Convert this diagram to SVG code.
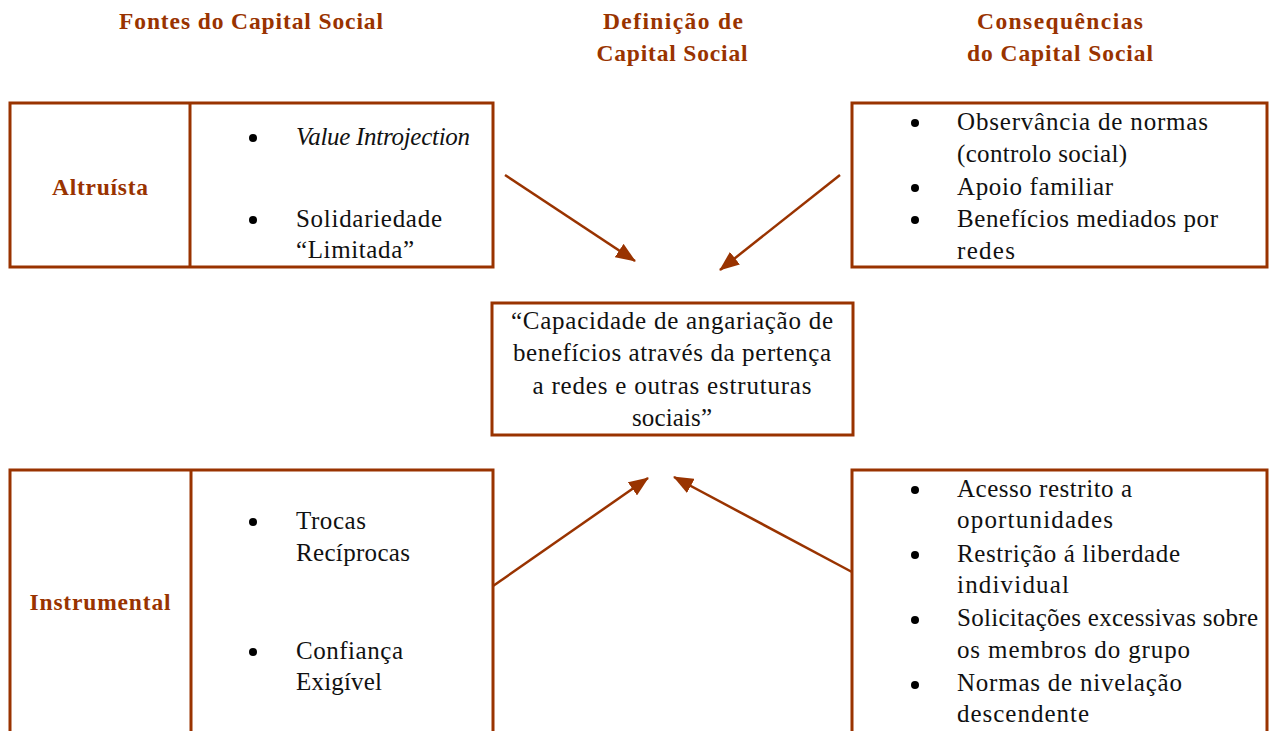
<svg xmlns="http://www.w3.org/2000/svg" width="1273" height="731" viewBox="0 0 1273 731">
<style>
.box{fill:none;stroke:#993300;stroke-width:3}
.conn{fill:none;stroke:#993300;stroke-width:2.5}
.hd{font-family:"Liberation Serif","Times New Roman",serif;font-weight:bold;font-size:23.5px;fill:#993300;text-anchor:middle}
.tx{font-family:"Liberation Serif","Times New Roman",serif;font-size:25px;fill:#111}
.ctr{text-anchor:middle}
.bul{fill:#000}
</style>
<defs>
<marker id="ah" markerUnits="userSpaceOnUse" markerWidth="20" markerHeight="16" refX="19" refY="8" orient="auto">
<path d="M0,0 L20,8 L0,16 Z" fill="#993300"/>
</marker>
</defs>
<rect width="1273" height="731" fill="#fff"/>
<g id="headings">
<text class="hd" x="251" y="29" textLength="264">Fontes do Capital Social</text>
<text class="hd" x="673" y="29" textLength="140">Definição de</text>
<text class="hd" x="672" y="61" textLength="151">Capital Social</text>
<text class="hd" x="1060" y="29" textLength="166">Consequências</text>
<text class="hd" x="1060" y="61" textLength="186">do Capital Social</text>
</g>
<g id="altruista">
<rect class="box" x="10" y="103" width="483" height="164"/>
<line class="box" x1="190" y1="103" x2="190" y2="267"/>
<text class="hd" x="100" y="195" textLength="96">Altruísta</text>
<circle class="bul" cx="253" cy="138" r="4"/>
<text class="tx" x="296" y="145" font-style="italic" textLength="174">Value Introjection</text>
<circle class="bul" cx="253" cy="220" r="4"/>
<text class="tx" x="296" y="227" textLength="146">Solidariedade</text>
<text class="tx" x="296" y="258" textLength="118">“Limitada”</text>
</g>
<g id="consequencias-positivas">
<rect class="box" x="852" y="103" width="415" height="164"/>
<circle class="bul" cx="915" cy="123" r="4"/>
<text class="tx" x="957" y="130" textLength="251">Observância de normas</text>
<text class="tx" x="957" y="162" textLength="170">(controlo social)</text>
<circle class="bul" cx="915" cy="188" r="4"/>
<text class="tx" x="957" y="195" textLength="156">Apoio familiar</text>
<circle class="bul" cx="915" cy="220" r="4"/>
<text class="tx" x="957" y="227" textLength="261">Benefícios mediados por</text>
<text class="tx" x="957" y="259" textLength="58">redes</text>
</g>
<g id="definicao">
<rect class="box" x="492" y="303" width="361" height="132"/>
<text class="tx ctr" x="672" y="329" textLength="322">“Capacidade de angariação de</text>
<text class="tx ctr" x="672" y="361" textLength="318">benefícios através da pertença</text>
<text class="tx ctr" x="672" y="394" textLength="279">a redes e outras estruturas</text>
<text class="tx ctr" x="672" y="426" textLength="80">sociais”</text>
</g>
<g id="instrumental">
<path class="box" d="M10,760 V470 H493 V760"/>
<line class="box" x1="191" y1="470" x2="191" y2="760"/>
<text class="hd" x="100" y="610" textLength="141">Instrumental</text>
<circle class="bul" cx="253" cy="522" r="4"/>
<text class="tx" x="296" y="529" textLength="70">Trocas</text>
<text class="tx" x="296" y="561" textLength="114">Recíprocas</text>
<circle class="bul" cx="253" cy="652" r="4"/>
<text class="tx" x="296" y="659" textLength="107">Confiança</text>
<text class="tx" x="296" y="690" textLength="86">Exigível</text>
</g>
<g id="consequencias-negativas">
<path class="box" d="M852,760 V470 H1267 V760"/>
<circle class="bul" cx="915" cy="490" r="4"/>
<text class="tx" x="957" y="497" textLength="175">Acesso restrito a</text>
<text class="tx" x="957" y="528" textLength="156">oportunidades</text>
<circle class="bul" cx="915" cy="555" r="4"/>
<text class="tx" x="957" y="562" textLength="223">Restrição á liberdade</text>
<text class="tx" x="957" y="593" textLength="112">individual</text>
<circle class="bul" cx="915" cy="620" r="4"/>
<text class="tx" x="957" y="626" textLength="301">Solicitações excessivas sobre</text>
<text class="tx" x="957" y="658" textLength="233">os membros do grupo</text>
<circle class="bul" cx="915" cy="685" r="4"/>
<text class="tx" x="957" y="691" textLength="225">Normas de nivelação</text>
<text class="tx" x="957" y="722" textLength="132">descendente</text>
</g>
<g id="connectors">
<line class="conn" x1="505" y1="175" x2="635" y2="261" marker-end="url(#ah)"/>
<line class="conn" x1="840" y1="175" x2="720" y2="270" marker-end="url(#ah)"/>
<line class="conn" x1="493" y1="586" x2="648" y2="478" marker-end="url(#ah)"/>
<line class="conn" x1="852" y1="572" x2="674" y2="477" marker-end="url(#ah)"/>
</g>
</svg>
